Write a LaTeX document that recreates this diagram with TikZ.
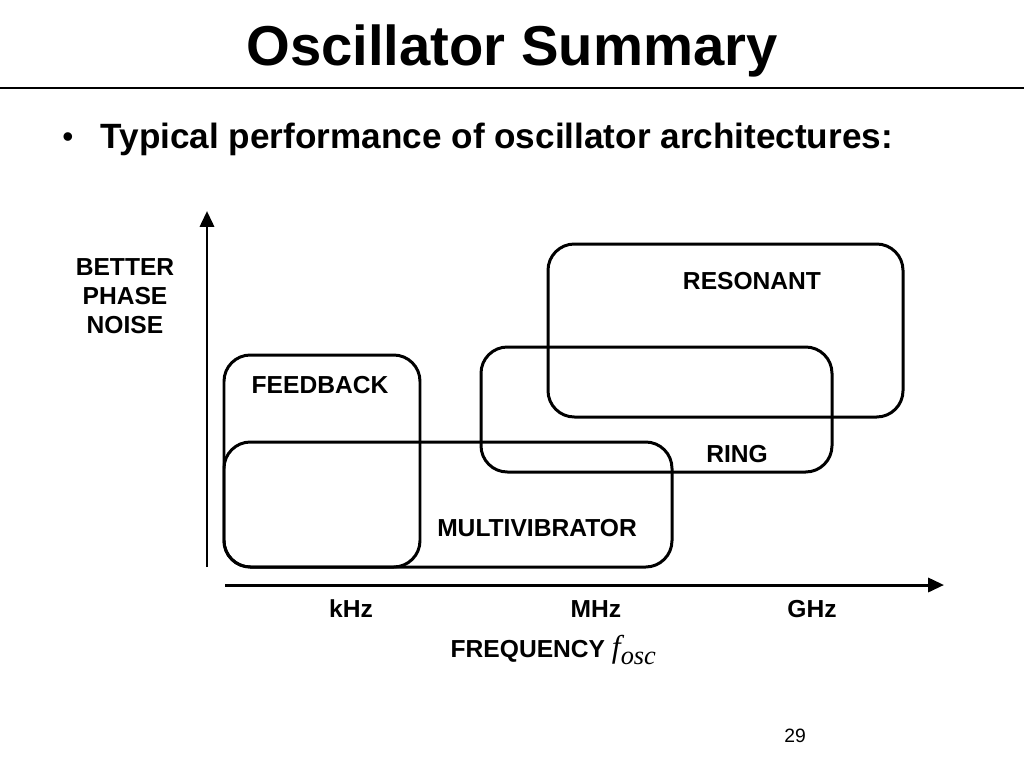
\documentclass[tikz,border=0pt]{standalone}
\usepackage{fontspec}
\setmainfont{Liberation Sans}
\newfontfamily\timesf{Liberation Serif}
\usetikzlibrary{arrows.meta}
\begin{document}
\begin{tikzpicture}[x=0.02cm,y=-0.02cm,thick,
    region/.style={draw,rounded corners=15pt,line width=1.7pt},
    axis/.style={line width=1.7pt,-{Triangle[length=9pt,width=8pt]}},
    label node/.style={font=\fontsize{14}{16.7}\selectfont\bfseries,anchor=base}]
                \useasboundingbox (0,0) rectangle (1024,768);
                \node[font=\fontsize{32}{38}\selectfont\bfseries,anchor=base] at (512, 65) (title) {Oscillator Summary};
                \draw[line width=1.1pt] (0,88) -- (1024,88);
                \node[font=\fontsize{18}{22}\selectfont,anchor=base] at (68, 147) (dot) {•};
                \node[font=\fontsize{20}{24}\selectfont\bfseries,anchor=base west,inner sep=0pt] at (100, 148) (bullet) {Typical performance of oscillator architectures:};

                \coordinate (y0) at (207, 567);
                \coordinate (y1) at (207, 211);
                \coordinate (x0) at (225, 585);
                \coordinate (x1) at (944, 585);
                \draw[axis] (y0) -- (y1);
                \draw[axis] (x0) -- (x1);

                \draw[region] (224, 355) rectangle (420, 567);
                \draw[region] (224, 442) rectangle (672, 567);
                \draw[region] (481, 347) rectangle (832, 472);
                \draw[region] (548, 244) rectangle (903, 417);

                \node[label node] at (320, 393) (fb) {FEEDBACK};
                \node[label node] at (537, 536) (mv) {MULTIVIBRATOR};
                \node[label node] at (737, 462) (ring) {RING};
                \node[label node] at (752, 289) (res) {RESONANT};
                \node[font=\fontsize{14}{16.7}\selectfont\bfseries,align=center] at (125, 296) (pn) {BETTER\\PHASE\\NOISE};
                \node[label node] at (351, 617) (khz) {kHz};
                \node[label node] at (596, 617) (mhz) {MHz};
                \node[label node] at (812, 617) (ghz) {GHz};
                \node[label node,anchor=base west,inner sep=0pt] at (450, 657) (freq) {FREQUENCY {\timesf\mdseries\itshape\fontsize{18}{20}\selectfont f\raisebox{-4pt}{\fontsize{15}{18}\selectfont osc}}};
                \node[font=\fontsize{11}{13}\selectfont,anchor=base] at (795, 742) (page) {29};
            \end{tikzpicture}
\end{document}
